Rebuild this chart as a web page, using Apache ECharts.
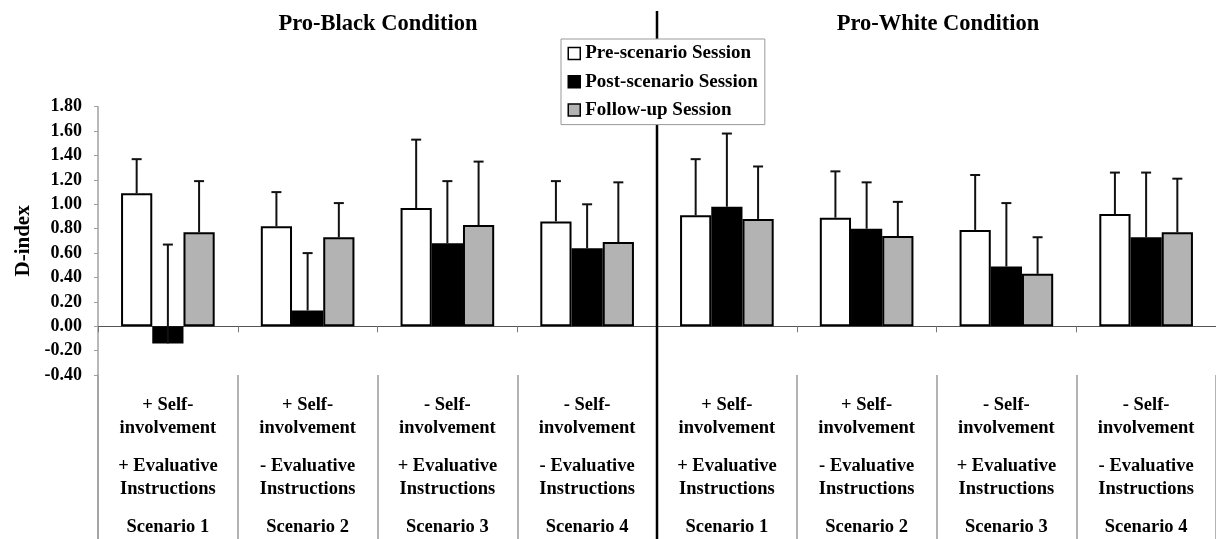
<!DOCTYPE html>
<html><head><meta charset="utf-8">
<script src="https://cdn.jsdelivr.net/npm/echarts@6/dist/echarts.min.js"></script>
<style>html,body{margin:0;padding:0;background:#fff}#c{width:1216px;height:539px}</style>
</head><body><div id="c"></div>
<script>
// ---- data ----
const categories = ['Pro-Black S1','Pro-Black S2','Pro-Black S3','Pro-Black S4','Pro-White S1','Pro-White S2','Pro-White S3','Pro-White S4'];
const selfLabels = ['+ Self-','+ Self-','- Self-','- Self-','+ Self-','+ Self-','- Self-','- Self-'];
const evalLabels = ['+ Evaluative','- Evaluative','+ Evaluative','- Evaluative','+ Evaluative','- Evaluative','+ Evaluative','- Evaluative'];
const scenarioLabels = ['Scenario 1','Scenario 2','Scenario 3','Scenario 4','Scenario 1','Scenario 2','Scenario 3','Scenario 4'];
const conditionTitles = ['Pro-Black Condition','Pro-White Condition'];
const seriesNames = ['Pre-scenario Session','Post-scenario Session','Follow-up Session'];
const preMeans    = [1.09, 0.82, 0.97, 0.86, 0.91, 0.89, 0.79, 0.92];
const preSD       = [0.28, 0.28, 0.56, 0.33, 0.46, 0.38, 0.45, 0.34];
const postMeans   = [-0.14, 0.13, 0.68, 0.64, 0.98, 0.80, 0.49, 0.73];
const postSD      = [0.81, 0.47, 0.51, 0.36, 0.60, 0.38, 0.52, 0.53];
const followMeans = [0.77, 0.73, 0.83, 0.69, 0.88, 0.74, 0.43, 0.77];
const followSD    = [0.42, 0.28, 0.52, 0.49, 0.43, 0.28, 0.30, 0.44];
const yMin = -0.4, yMax = 1.8, yStep = 0.2;

// ---- chart ----
const FONT = 'Liberation Serif';
const means = [preMeans, postMeans, followMeans];
const sds = [preSD, postSD, followSD];
const fills = ['#ffffff', '#000000', '#b3b3b3'];
const CAT_GAP = 0.33;

const chart = echarts.init(document.getElementById('c'), null, {renderer: 'canvas'});

const barSeries = seriesNames.map((name, s) => ({
  name: name, type: 'bar', xAxisIndex: 0, yAxisIndex: 0,
  data: means[s], barGap: '0%', barCategoryGap: (CAT_GAP * 100) + '%',
  itemStyle: {color: fills[s], borderColor: '#000', borderWidth: 2},
  emphasis: {disabled: true}, z: 2
}));

const errData = [];
for (let s = 0; s < 3; s++) for (let i = 0; i < categories.length; i++) errData.push([i, means[s][i], sds[s][i], s]);

function errRender(params, api) {
  const idx = api.value(0), mean = api.value(1), sd = api.value(2), s = api.value(3);
  const band = api.size([1, 0])[0];
  const bw = band * (1 - CAT_GAP) / 3;
  const c0 = api.coord([idx, mean]);
  const c1 = api.coord([idx, mean + sd]);
  const x = c0[0] + (s - 1) * bw;
  return {type: 'group', children: [
    {type: 'line', shape: {x1: x, y1: c0[1], x2: x, y2: c1[1]}, style: {stroke: '#111', lineWidth: 2}},
    {type: 'line', shape: {x1: x - 5, y1: c1[1], x2: x + 5, y2: c1[1]}, style: {stroke: '#111', lineWidth: 2}}
  ]};
}

const titleStyle = {fontFamily: FONT, fontWeight: 'bold', fontSize: 22.5, color: '#000'};
const option = {
  animation: false,
  backgroundColor: '#fff',
  title: [
    {text: conditionTitles[0], left: 378, top: 13, padding: 0, textAlign: 'center', textStyle: titleStyle},
    {text: conditionTitles[1], left: 938, top: 13, padding: 0, textAlign: 'center', textStyle: titleStyle}
  ],
  legend: {
    data: seriesNames, orient: 'vertical', left: 561, top: 39, z: 10,
    padding: [5, 7, 5, 6.5], itemGap: 9.3, itemWidth: 12, itemHeight: 12,
    icon: 'rect', backgroundColor: '#fff', borderColor: '#999', borderWidth: 1,
    itemStyle: {borderColor: '#000', borderWidth: 1.5},
    textStyle: {fontFamily: FONT, fontWeight: 'bold', fontSize: 19, color: '#000'},
    selectedMode: false
  },
  grid: [
    {left: 98, width: 1120, top: 106.7, height: 268.4, containLabel: false},
    {left: 98, width: 1120, top: 375.1, bottom: 0, containLabel: false}
  ],
  xAxis: [
    {type: 'category', gridIndex: 0, data: categories,
     axisLine: {onZero: true, lineStyle: {color: '#555', width: 1}},
     axisTick: {show: true, length: 6, lineStyle: {color: '#777', width: 1}},
     axisLabel: {show: false}, splitLine: {show: false}},
    {type: 'category', gridIndex: 1, data: categories, position: 'top',
     axisLine: {show: false}, axisTick: {show: false},
     splitLine: {show: true, interval: 0, lineStyle: {color: '#9a9a9a', width: 1.5}},
     axisLabel: {show: true, inside: true, interval: 0, margin: 18.5,
       formatter: function (v, i) {
         return '{a|' + selfLabels[i] + '}\n{a|involvement}\n{s| }\n{a|' + evalLabels[i] + '}\n{a|Instructions}\n{s| }\n{a|' + scenarioLabels[i] + '}';
       },
       rich: {
         a: {fontFamily: FONT, fontWeight: 'bold', fontSize: 18.5, lineHeight: 23, color: '#000', align: 'center'},
         s: {fontSize: 10, lineHeight: 15}
       }}}
  ],
  yAxis: [
    {type: 'value', gridIndex: 0, min: yMin, max: yMax, interval: yStep,
     name: 'D-index', nameLocation: 'middle', nameGap: 64, nameRotate: 90,
     nameTextStyle: {fontFamily: FONT, fontWeight: 'bold', fontSize: 21, color: '#000'},
     axisLine: {show: true, lineStyle: {color: '#a0a0a0', width: 1.5}},
     axisTick: {show: true, length: 4, lineStyle: {color: '#a0a0a0', width: 1}},
     axisLabel: {margin: 16, fontFamily: FONT, fontWeight: 'bold', fontSize: 18, color: '#000',
       formatter: v => v.toFixed(2)},
     splitLine: {show: false}},
    {type: 'value', gridIndex: 1, min: 0, max: 1,
     axisLine: {show: true, lineStyle: {color: '#a0a0a0', width: 1.5}},
     axisTick: {show: false}, axisLabel: {show: false}, splitLine: {show: false}}
  ],
  series: barSeries.concat([{
    type: 'custom', name: 'error', xAxisIndex: 0, yAxisIndex: 0,
    renderItem: errRender, data: errData, encode: {x: 0, y: 1}, z: 3, silent: true
  }])
};
chart.setOption(option);

const xa = chart.convertToPixel({xAxisIndex: 0}, 3);
const xb = chart.convertToPixel({xAxisIndex: 0}, 4);
const xDiv = (xa + xb) / 2;
chart.setOption({graphic: [{type: 'line', z: 5, silent: true,
  shape: {x1: xDiv, y1: 11, x2: xDiv, y2: 539}, style: {stroke: '#000', lineWidth: 2.5}}]});
</script></body></html>
